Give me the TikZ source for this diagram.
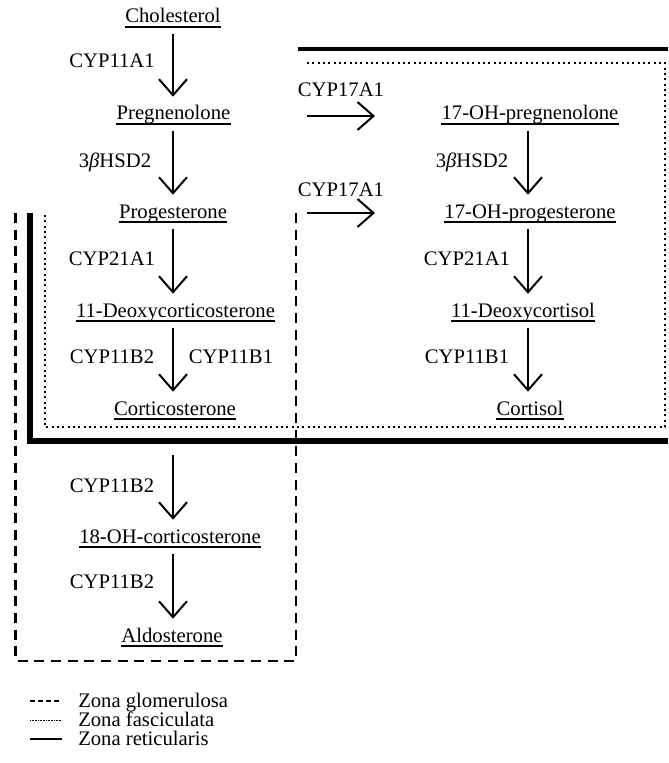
\documentclass[tikz,border=0pt]{standalone}
\usepackage{fontspec}
\setmainfont{Liberation Serif}
\usetikzlibrary{arrows.meta}
\begin{document}
\begin{tikzpicture}[x=0.75pt,y=-0.75pt,
  cmp/.style={anchor=base, inner sep=0pt, font=\fontsize{15.5pt}{18pt}\selectfont, text height=11.25pt, text depth=3.75pt},
  enz/.style={anchor=base, inner sep=0pt, font=\fontsize{15.5pt}{18pt}\selectfont},
  arr/.style={line width=1.5pt, -{Straight Barb[length=12pt,width=21pt]}, shorten <=4pt, shorten >=6pt},
  harr/.style={line width=1.5pt, -{Straight Barb[length=12pt,width=21pt]}},
  ul/.style={line width=1.1pt},
  glom/.style={line width=1.9pt, dash pattern=on 7.5pt off 5pt},
  fasc/.style={line width=1.8pt, dash pattern=on 1.6pt off 2.4pt},
  ret/.style={line width=5pt},
]
\fill[white] (0,0) rectangle (668,763);
\useasboundingbox (0,0) rectangle (668,763);

% zones
\draw[line width=3pt] (298,49) -- (668,49);
\draw[ret] (30,213) -- (30,441) -- (668,441);
\draw[fasc] (307,63) -- (665,63) -- (665,427) -- (45,427) -- (45,213);
\draw[glom] (15.5,213) -- (15.5,661) -- (296,661) -- (296,213);

% compounds, left column
\node[cmp] (chol) at (173,23) {Cholesterol};
\node[cmp] (preg) at (173.5,120) {Pregnenolone};
\node[cmp] (prog) at (173,218) {Progesterone};
\node[cmp] (doc) at (175.5,317) {11-Deoxycorticosterone};
\node[cmp] (cort) at (175,415) {Corticosterone};
\node[cmp] (oh18) at (170,543) {18-OH-corticosterone};
\node[cmp] (aldo) at (172,642) {Aldosterone};
% right column
\node[cmp] (ohpreg) at (530,120) {17-OH-pregnenolone};
\node[cmp] (ohprog) at (530,218) {17-OH-progesterone};
\node[cmp] (dcol) at (523,317) {11-Deoxycortisol};
\node[cmp] (cortisol) at (530,415) {Cortisol};

\foreach \n in {chol,preg,prog,doc,cort,oh18,aldo,ohpreg,ohprog,dcol,cortisol}
  \draw[ul] ([yshift=-3pt]\n.base west) -- ([yshift=-3pt]\n.base east);

% enzymes
\node[enz] (e1) at (112,68) {CYP11A1};
\node[enz] (e2) at (115,167) {3\textit{β}HSD2};
\node[enz] (e3) at (112,265) {CYP21A1};
\node[enz] (e4) at (112,363) {CYP11B2};
\node[enz] (e5) at (231,363) {CYP11B1};
\node[enz] (e6) at (112,492) {CYP11B2};
\node[enz] (e7) at (112,588) {CYP11B2};
\node[enz] (e8) at (341,97) {CYP17A1};
\node[enz] (e9) at (341,196) {CYP17A1};
\node[enz] (e10) at (472,167) {3\textit{β}HSD2};
\node[enz] (e11) at (467,265) {CYP21A1};
\node[enz] (e12) at (467,363) {CYP11B1};

% arrows
\coordinate (axL) at (173,0);
\coordinate (axR) at (528,0);
\draw[arr] (chol.south -| axL) -- (preg.north -| axL);
\draw[arr] (preg.south -| axL) -- (prog.north -| axL);
\draw[arr] (prog.south -| axL) -- (doc.north -| axL);
\draw[arr] (doc.south -| axL) -- (cort.north -| axL);
\draw[arr, shorten <=26pt] (cort.south -| axL) -- (oh18.north -| axL);
\draw[arr] (oh18.south -| axL) -- (aldo.north -| axL);
\draw[arr] (ohpreg.south -| axR) -- (ohprog.north -| axR);
\draw[arr] (ohprog.south -| axR) -- (dcol.north -| axR);
\draw[arr] (dcol.south -| axR) -- (cortisol.north -| axR);
\coordinate (h1a) at (307,116);
\coordinate (h1b) at (375,116);
\coordinate (h2a) at (307,213);
\coordinate (h2b) at (375,213);
\draw[harr] (h1a) -- (h1b);
\draw[harr] (h2a) -- (h2b);

% legend
\draw[line width=0.8pt, dash pattern=on 3.75pt off 2.25pt] (30,701) -- (62,701);
\draw[line width=0.6pt, dash pattern=on 0.6pt off 0.6pt] (30,720) -- (62,720);
\draw[line width=2.2pt] (30,739) -- (62,739);
\node[enz, anchor=base west] (lg) at (78,707) {Zona glomerulosa};
\node[enz, anchor=base west] (lf) at (78,726) {Zona fasciculata};
\node[enz, anchor=base west] (lr) at (78,745) {Zona reticularis};
\end{tikzpicture}
\end{document}
